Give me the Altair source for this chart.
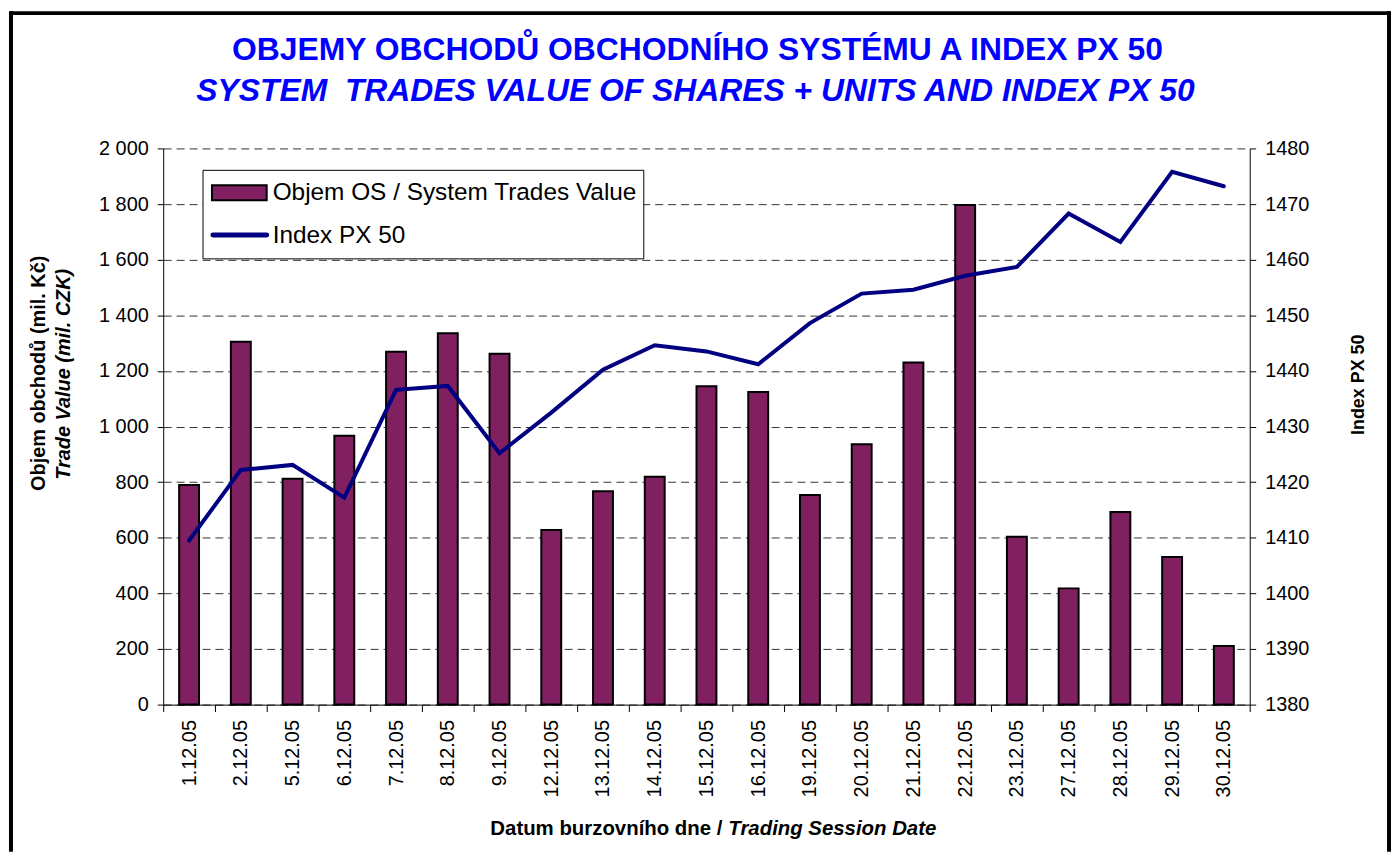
import altair as alt
import pandas as pd

dates = ["1.12.05", "2.12.05", "5.12.05", "6.12.05", "7.12.05", "8.12.05", "9.12.05",
         "12.12.05", "13.12.05", "14.12.05", "15.12.05", "16.12.05", "19.12.05", "20.12.05",
         "21.12.05", "22.12.05", "23.12.05", "27.12.05", "28.12.05", "29.12.05", "30.12.05"]
volume = [790, 1305, 812, 967, 1269, 1335, 1262, 628, 767, 819, 1145, 1124, 754, 936,
          1230, 1797, 604, 418, 693, 531, 211]
index_px50 = [1409.5, 1422.2, 1423.1, 1417.2, 1436.6, 1437.3, 1425.2, 1432.5, 1440.2, 1444.6,
              1443.5, 1441.2, 1448.6, 1453.9, 1454.6, 1457.1, 1458.7, 1468.3, 1463.2, 1475.8, 1473.2]
left_ticks = list(range(0, 2001, 200))
right_ticks = list(range(1380, 1481, 10))

title_1 = "OBJEMY OBCHODŮ OBCHODNÍHO SYSTÉMU A INDEX PX 50"
title_2 = "SYSTEM\u00a0 TRADES VALUE OF SHARES + UNITS AND INDEX PX 50"
ytitle_1 = "Objem obchodů (mil. Kč)"
ytitle_2 = "Trade Value (mil. CZK)"
xtitle_1 = "Datum burzovního dne /"
xtitle_2 = "Trading Session Date"
legend_bar = "Objem OS / System Trades Value"
legend_line = "Index PX 50"

FONT = "Liberation Sans, Arial, sans-serif"
BAR_COLOR = "#802060"
LINE_COLOR = "#000080"
W, H = 1092, 559

df = pd.DataFrame({"date": dates, "volume": volume, "index": index_px50})
one = pd.DataFrame({"k": [0]})

x_enc = alt.X(
    "date:N", sort=dates,
    scale=alt.Scale(paddingInner=0, paddingOuter=0),
    axis=alt.Axis(title=None, labelAngle=270, tickBand="extent", labelFontSize=20,
                  labelPadding=8, tickSize=7, grid=False),
)

bars = alt.Chart(df).mark_bar(width=20, color=BAR_COLOR, stroke="black", strokeWidth=2).encode(
    x=x_enc,
    y=alt.Y("volume:Q", scale=alt.Scale(domain=[0, 2000], nice=False),
            axis=alt.Axis(title=None, values=left_ticks, grid=True, gridDash=[8, 5],
                          gridColor="#333333", gridWidth=1, tickSize=6, labelPadding=9,
                          labelFontSize=20,
                          labelExpr="replace(format(datum.value, ','), ',', ' ')")),
)

line = alt.Chart(df).mark_line(color=LINE_COLOR, strokeWidth=4, strokeCap="round").encode(
    x=alt.X("date:N", sort=dates),
    y=alt.Y("index:Q", scale=alt.Scale(domain=[1380, 1480], nice=False, zero=False),
            axis=alt.Axis(orient="right", values=right_ticks, grid=False, format="d",
                          tickSize=6, labelPadding=9, labelFontSize=20,
                          title=legend_line, titleFontSize=18, titleFontWeight="bold",
                          titleAngle=270, titleX=109, titleY=237, titleAlign="center",
                          titleBaseline="middle", titleFont=FONT)),
)


def text(t, x, y, size, weight="bold", style="normal", angle=0, align="center", color="black"):
    return alt.Chart(one).mark_text(
        fontSize=size, fontWeight=weight, fontStyle=style, angle=angle, align=align,
        baseline="middle", color=color, font=FONT,
    ).encode(x=alt.value(x), y=alt.value(y), text=alt.value(t))


def rule(x, y, x2=None, y2=None, width=4, color="black"):
    enc = {"x": alt.value(x), "y": alt.value(y)}
    if x2 is not None:
        enc["x2"] = alt.value(x2)
    if y2 is not None:
        enc["y2"] = alt.value(y2)
    return alt.Chart(one).mark_rule(color=color, strokeWidth=width, strokeCap="square").encode(**enc)


frame = [
    rule(-153, -136, y2=705),
    rule(-153, -136, x2=1232),
    rule(1232, -136, y2=705),
]

legend_box = alt.Chart(one).mark_rect(fill="white", stroke="black", strokeWidth=1).encode(
    x=alt.value(40), x2=alt.value(483), y=alt.value(22), y2=alt.value(111))
legend_swatch = alt.Chart(one).mark_rect(fill=BAR_COLOR, stroke="black", strokeWidth=2).encode(
    x=alt.value(49), x2=alt.value(104), y=alt.value(37), y2=alt.value(52))
legend_lineswatch = alt.Chart(one).mark_rule(color=LINE_COLOR, strokeWidth=5, strokeCap="round").encode(
    x=alt.value(50), x2=alt.value(104), y=alt.value(87))

texts = [
    text(title_1, 537, -99, 32, color="#0000ff"),
    text(title_2, 535, -58, 32, style="italic", color="#0000ff"),
    text(ytitle_1, -125, 226, 20, angle=270),
    text(ytitle_2, -100, 227, 20, style="italic", angle=270),
    text(xtitle_1, 562, 684, 20.5, align="right"),
    text(xtitle_2, 568, 684, 20.5, style="italic", align="left"),
    text(legend_bar, 110, 45, 24.5, weight="normal", align="left"),
    text(legend_line, 110, 88, 24.5, weight="normal", align="left"),
]

chart = alt.layer(
    bars, line, *frame, legend_box, legend_swatch, legend_lineswatch, *texts
).resolve_scale(y="independent").properties(
    width=W, height=H, padding=0, background="white"
).configure_view(stroke=None).configure_axis(
    labelFont=FONT, titleFont=FONT, labelColor="black", titleColor="black",
    domainColor="black", tickColor="black", domainWidth=1, tickWidth=1,
)

chart.save("out.html", embed_options={"renderer": "svg", "actions": False})
